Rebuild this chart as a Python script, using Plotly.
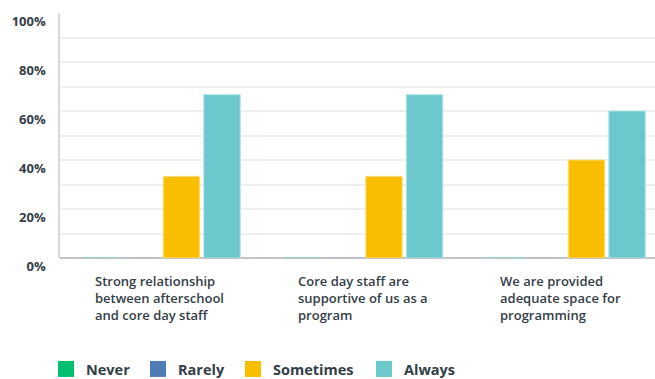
import plotly.graph_objects as go

# Survey responses (percent of respondents)
categories = [
    "Strong relationship<br>between afterschool<br>and core day staff",
    "Core day staff are<br>supportive of us as a<br>program",
    "We are provided<br>adequate space for<br>programming",
]
series_names = ["Never", "Rarely", "Sometimes", "Always"]
never = [0, 0, 0]
rarely = [0, 0, 0]
sometimes = [33.33, 33.33, 40.0]
always = [66.67, 66.67, 60.0]
tick_values = [0, 20, 40, 60, 80, 100]
tick_labels = ["0%", "20%", "40%", "60%", "80%", "100%"]

colors = ["#00bf6f", "#507cb6", "#f9be00", "#6bc8cd"]
outline = ["#7fdfb7", "#a7bdda", "#fcdf80", "#b5e3e6"]
text_color = "#333e48"
font_family = "Open Sans"
W, H = 655, 379
# left edge (px) of each legend swatch
legend_left_px = [58, 150, 245, 376]

x_pos = list(range(len(categories)))
fig = go.Figure()
for k, (name, vals, col, edge) in enumerate(
        zip(series_names, [never, rarely, sometimes, always], colors, outline)):
    fig.add_trace(go.Bar(
        x=x_pos, y=vals, name=name, showlegend=False,
        marker=dict(color=col, line=dict(color=edge, width=1)),
        hovertemplate="%{y:.2f}%<extra>" + name + "</extra>",
    ))
    legend_id = "legend" if k == 0 else f"legend{k + 1}"
    # legend entry with a larger square swatch
    fig.add_trace(go.Scatter(
        x=[None], y=[None], mode="markers", name=name, legend=legend_id,
        marker=dict(symbol="square", size=18, color=col),
    ))
    fig.update_layout({legend_id: dict(
        orientation="h", xref="container", yref="container",
        x=(legend_left_px[k] - 12) / W, xanchor="left",
        y=10 / H, yanchor="middle", bgcolor="rgba(0,0,0,0)",
        font=dict(family=font_family, size=14.5, color=text_color, weight="bold"),
        itemsizing="trace",
    )})

for i, label in enumerate(categories):
    fig.add_annotation(
        x=i - 0.5, xref="x", xshift=33, xanchor="left",
        y=0, yref="paper", yshift=-12, yanchor="top",
        text=label, showarrow=False, align="left",
        font=dict(family=font_family, size=13, color=text_color, weight=600),
    )

fig.update_layout(
    width=W, height=H,
    margin=dict(l=60, r=0, t=13, b=121),
    paper_bgcolor="white", plot_bgcolor="white",
    barmode="group", bargap=0.2, bargroupgap=0.1,
    font=dict(family=font_family, color=text_color),
)
fig.update_xaxes(
    range=[-0.5, 2.438], showticklabels=False, showgrid=False,
    zeroline=False, showline=False, ticks="",
)
fig.update_yaxes(
    range=[0, 100], tickvals=tick_values, ticktext=tick_labels,
    showgrid=False, zeroline=True, zerolinecolor="#c4c4c4", zerolinewidth=1.5,
    showline=True, linecolor="#d9d9d9", linewidth=1.5,
    ticks="", ticklabelstandoff=10, ticklabelshift=8,
    tickfont=dict(family=font_family, size=13, color=text_color, weight="bold"),
    minor=dict(tickvals=[10, 20, 30, 40, 50, 60, 70, 80, 90], showgrid=True,
               gridcolor="#efefef", gridwidth=1.5, ticks=""),
)

fig.write_html("out.html")
